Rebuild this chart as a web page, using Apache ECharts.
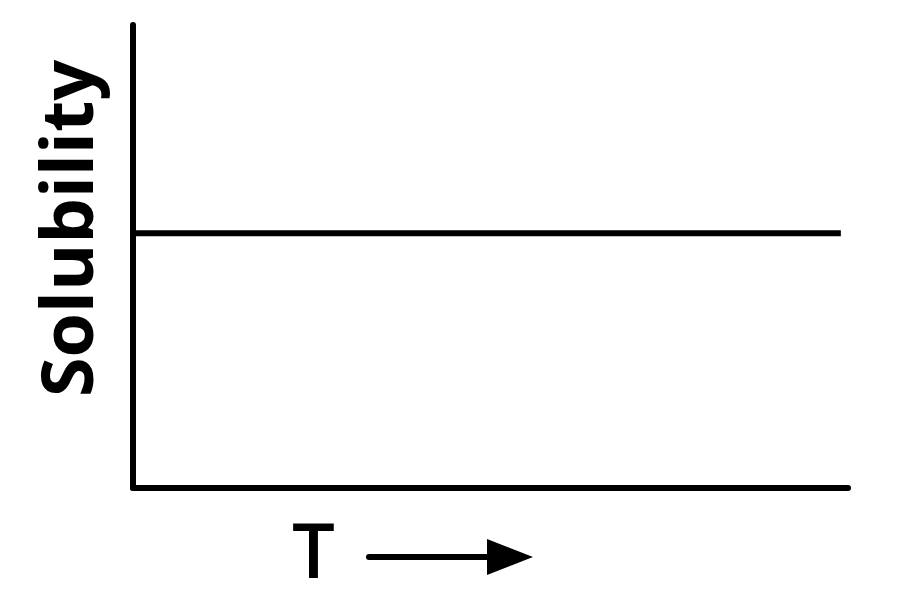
<!DOCTYPE html>
<html>
<head>
<meta charset="utf-8">
<script src="https://cdn.jsdelivr.net/npm/echarts@6/dist/echarts.min.js"></script>
<style>
html,body{margin:0;padding:0;background:#fff;}
#main{width:900px;height:614px;}
</style>
</head>
<body>
<div id="main"></div>
<script>
// data
var tempPoints = [0, 99];
var solubilityValues = [55, 55];
var yLabel = 'Solubility';
var xLabel = 'T';

var chart = echarts.init(document.getElementById('main'));

var lineData = [];
for (var i = 0; i < tempPoints.length; i++) {
    lineData.push([tempPoints[i], solubilityValues[i]]);
}

var option = {
    backgroundColor: '#fff',
    animation: false,
    grid: { left: 133, right: 52, top: 25, bottom: 126 },
    xAxis: {
        type: 'value',
        min: 0,
        max: 100,
        axisLine: { show: true, lineStyle: { color: '#000', width: 6, cap: 'round' } },
        axisTick: { show: false },
        axisLabel: { show: false },
        splitLine: { show: false }
    },
    yAxis: {
        type: 'value',
        min: 0,
        max: 100,
        name: yLabel,
        nameLocation: 'middle',
        nameRotate: 90,
        nameGap: 25,
        nameTextStyle: {
            fontFamily: 'Open Sans',
            fontWeight: 'bold',
            fontSize: 72,
            color: '#000',
            padding: [0, 0, 0, 56]
        },
        axisLine: { show: true, lineStyle: { color: '#000', width: 6, cap: 'round' } },
        axisTick: { show: false },
        axisLabel: { show: false },
        splitLine: { show: false }
    },
    series: [{
        type: 'line',
        data: lineData,
        symbol: 'none',
        lineStyle: { color: '#000', width: 6 }
    }],
    graphic: [
        {
            type: 'text',
            left: 292,
            top: 518,
            style: {
                text: xLabel,
                fontFamily: 'Open Sans',
                fontWeight: 600,
                fontSize: 76,
                fill: '#000'
            }
        },
        {
            type: 'line',
            shape: { x1: 369, y1: 557, x2: 492, y2: 557 },
            style: { stroke: '#000', lineWidth: 6, lineCap: 'round' }
        },
        {
            type: 'polygon',
            shape: { points: [[487, 539], [533, 557], [487, 575]] },
            style: { fill: '#000' }
        }
    ]
};

chart.setOption(option);
</script>
</body>
</html>
